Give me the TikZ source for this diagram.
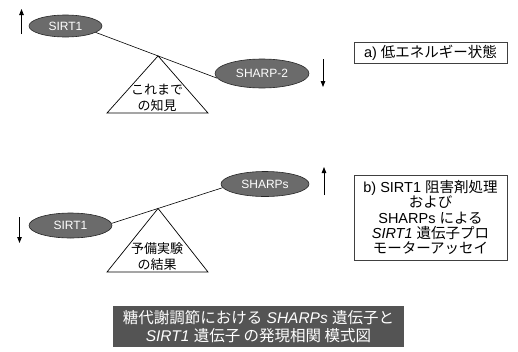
\documentclass[tikz,border=0pt]{standalone}
\usepackage{fontspec}
\setmainfont{Liberation Sans}
\newfontfamily\jp{Noto Sans CJK JP}
\usetikzlibrary{shapes.geometric,arrows.meta,calc}
\begin{document}
\begin{tikzpicture}[x=1pt,y=-1pt,
  gene/.style={ellipse,draw=black!85,line width=0.6pt,fill=black!58,text=white,
    font=\fontsize{12}{12}\selectfont,inner sep=0pt},
  lever/.style={draw=black,line width=0.6pt},
  fulcrum/.style={draw=black,line width=0.7pt,fill=white},
  fultext/.style={align=center,font=\jp\fontsize{13}{16}\selectfont,inner sep=0pt},
  trend/.style={draw=black,line width=0.8pt,-{Triangle[length=6pt,width=4.5pt]}},
  infobox/.style={draw=black!75,line width=0.8pt,fill=white,minimum width=153pt,
    align=center,inner sep=0pt,font=\fontsize{14.5}{15.2}\selectfont},
  banner/.style={fill=black!67,text=white,minimum width=291pt,minimum height=41pt,
    align=center,inner sep=0pt,font=\fontsize{15.5}{18.5}\selectfont}]
\useasboundingbox (0,0) rectangle (518,351);

% ---- a) upper lever
\node[gene,minimum width=73pt,minimum height=22pt] (sirtA) at (65.5,26) {SIRT1};
\node[gene,minimum width=94pt,minimum height=29pt] (sharp2) at (262,73.5) {SHARP-2};
\coordinate (lA1) at (sirtA.-12);
\coordinate (lA2) at (sharp2.-174);
\draw[lever] (lA1) -- (lA2);
\coordinate (apexA) at ($(lA1)!0.513!(lA2)$);
\coordinate (blA) at (107,113);
\coordinate (brA) at (208,113);
\draw[fulcrum] (apexA) -- (blA) -- (brA) -- cycle;
\node[fultext] (knowA) at (157,97.5) {これまで\\の知見};

\coordinate (upA0) at (21.5,34);
\coordinate (upA1) at (21.5,9);
\draw[trend] (upA0) -- (upA1);
\coordinate (dnA0) at (323,59);
\coordinate (dnA1) at (323,87);
\draw[trend] (dnA0) -- (dnA1);

\node[infobox,minimum height=21pt] (boxA) at (430.5,52.5) {a) {\jp 低エネルギー状態}};

% ---- b) lower lever
\node[gene,minimum width=83pt,minimum height=25pt] (sirtB) at (70.5,225.5) {SIRT1};
\node[gene,minimum width=88pt,minimum height=25pt] (sharps) at (265,184) {SHARPs};
\coordinate (lB1) at (sirtB.3);
\coordinate (lB2) at (sharps.-175);
\draw[lever] (lB1) -- (lB2);
\coordinate (apexB) at ($(lB1)!0.418!(lB2)$);
\coordinate (blB) at (107,272);
\coordinate (brB) at (208,272);
\draw[fulcrum] (apexB) -- (blB) -- (brB) -- cycle;
\node[fultext] (knowB) at (157,257) {予備実験\\の結果};

\coordinate (dnB0) at (19.5,217);
\coordinate (dnB1) at (19.5,243);
\draw[trend] (dnB0) -- (dnB1);
\coordinate (upB0) at (324,195);
\coordinate (upB1) at (324,167);
\draw[trend] (upB0) -- (upB1);

\node[infobox,minimum height=85pt] (boxB) at (430.5,217.5)
  {b) SIRT1 {\jp 阻害剤処理}\\{\jp および}\\SHARPs {\jp による}\\\textit{SIRT1} {\jp 遺伝子プロ}\\{\jp モーターアッセイ}};

% ---- title banner
\node[banner] (title) at (258.5,326.5)
  {{\jp 糖代謝調節における} \textit{SHARPs} {\jp 遺伝子と}\\\textit{SIRT1} {\jp 遺伝子 の発現相関 模式図}};
\end{tikzpicture}
\end{document}
